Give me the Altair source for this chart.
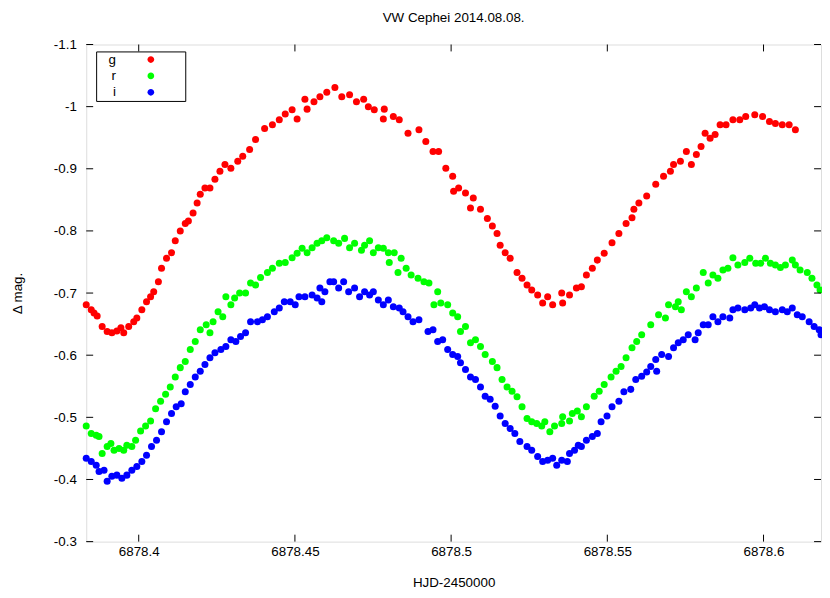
import altair as alt
import pandas as pd

# ---- data (HJD-2450000, delta magnitude) ----
g_hjd = [6878.3832, 6878.3848, 6878.3857, 6878.3867, 6878.3883, 6878.3899, 6878.3914, 6878.3930, 6878.3943, 6878.3952,
         6878.3968, 6878.3984, 6878.3994, 6878.4010, 6878.4025, 6878.4038, 6878.4048, 6878.4063, 6878.4073, 6878.4089,
         6878.4105, 6878.4117, 6878.4133, 6878.4149, 6878.4159, 6878.4174, 6878.4187, 6878.4197, 6878.4212, 6878.4228,
         6878.4244, 6878.4260, 6878.4276, 6878.4295, 6878.4317, 6878.4333, 6878.4355, 6878.4374, 6878.4403, 6878.4428,
         6878.4450, 6878.4469, 6878.4491, 6878.4507, 6878.4532, 6878.4539, 6878.4561, 6878.4580, 6878.4602, 6878.4628,
         6878.4650, 6878.4675, 6878.4697, 6878.4720, 6878.4735, 6878.4754, 6878.4783, 6878.4786, 6878.4815, 6878.4834,
         6878.4862, 6878.4897, 6878.4919, 6878.4942, 6878.4960, 6878.4983, 6878.5005, 6878.5008, 6878.5024, 6878.5046,
         6878.5062, 6878.5071, 6878.5094, 6878.5116, 6878.5132, 6878.5147, 6878.5157, 6878.5173, 6878.5189, 6878.5211,
         6878.5227, 6878.5243, 6878.5258, 6878.5277, 6878.5293, 6878.5309, 6878.5325, 6878.5354, 6878.5357, 6878.5379,
         6878.5401, 6878.5417, 6878.5433, 6878.5452, 6878.5468, 6878.5490, 6878.5515, 6878.5537, 6878.5560, 6878.5579,
         6878.5585, 6878.5601, 6878.5626, 6878.5655, 6878.5680, 6878.5702, 6878.5712, 6878.5734, 6878.5753, 6878.5769,
         6878.5785, 6878.5800, 6878.5813, 6878.5829, 6878.5845, 6878.5861, 6878.5880, 6878.5902, 6878.5924, 6878.5943,
         6878.5972, 6878.5997, 6878.6019, 6878.6038, 6878.6060, 6878.6082, 6878.6102]
g_mag = [-0.681, -0.673, -0.668, -0.663, -0.646, -0.638, -0.636, -0.639, -0.644, -0.636,
         -0.646, -0.654, -0.660, -0.673, -0.686, -0.694, -0.702, -0.718, -0.740, -0.756,
         -0.765, -0.784, -0.800, -0.812, -0.816, -0.829, -0.845, -0.859, -0.869, -0.869,
         -0.883, -0.896, -0.907, -0.901, -0.912, -0.920, -0.931, -0.947, -0.965, -0.971,
         -0.979, -0.988, -0.995, -0.980, -1.012, -0.996, -1.008, -1.016, -1.023, -1.031,
         -1.016, -1.019, -1.008, -1.012, -1.000, -0.995, -0.980, -0.996, -0.984, -0.979,
         -0.957, -0.963, -0.944, -0.928, -0.928, -0.901, -0.888, -0.864, -0.869, -0.861,
         -0.837, -0.853, -0.835, -0.820, -0.808, -0.796, -0.777, -0.765, -0.756, -0.733,
         -0.724, -0.713, -0.705, -0.697, -0.684, -0.694, -0.681, -0.700, -0.684, -0.697,
         -0.708, -0.710, -0.729, -0.740, -0.753, -0.764, -0.781, -0.796, -0.812, -0.821,
         -0.835, -0.845, -0.856, -0.875, -0.888, -0.896, -0.907, -0.912, -0.928, -0.907,
         -0.923, -0.936, -0.957, -0.949, -0.955, -0.971, -0.971, -0.979, -0.979, -0.984,
         -0.987, -0.984, -0.976, -0.973, -0.971, -0.971, -0.963]

r_hjd = [6878.3832, 6878.3848, 6878.3864, 6878.3873, 6878.3883, 6878.3899, 6878.3911, 6878.3921, 6878.3937, 6878.3952,
         6878.3962, 6878.3978, 6878.3990, 6878.4006, 6878.4022, 6878.4038, 6878.4054, 6878.4070, 6878.4086, 6878.4101,
         6878.4117, 6878.4133, 6878.4149, 6878.4165, 6878.4181, 6878.4197, 6878.4216, 6878.4228, 6878.4238, 6878.4254,
         6878.4269, 6878.4279, 6878.4295, 6878.4307, 6878.4323, 6878.4342, 6878.4358, 6878.4374, 6878.4390, 6878.4412,
         6878.4428, 6878.4450, 6878.4469, 6878.4491, 6878.4507, 6878.4523, 6878.4539, 6878.4555, 6878.4571, 6878.4586,
         6878.4602, 6878.4624, 6878.4640, 6878.4659, 6878.4675, 6878.4691, 6878.4713, 6878.4723, 6878.4739, 6878.4751,
         6878.4767, 6878.4783, 6878.4799, 6878.4802, 6878.4818, 6878.4830, 6878.4840, 6878.4856, 6878.4872, 6878.4894,
         6878.4913, 6878.4929, 6878.4945, 6878.4957, 6878.4967, 6878.4989, 6878.5005, 6878.5021, 6878.5030, 6878.5046,
         6878.5062, 6878.5078, 6878.5094, 6878.5109, 6878.5132, 6878.5147, 6878.5163, 6878.5179, 6878.5195, 6878.5211,
         6878.5227, 6878.5243, 6878.5258, 6878.5274, 6878.5290, 6878.5300, 6878.5316, 6878.5331, 6878.5354, 6878.5357,
         6878.5379, 6878.5388, 6878.5404, 6878.5417, 6878.5433, 6878.5458, 6878.5474, 6878.5490, 6878.5512, 6878.5528,
         6878.5544, 6878.5560, 6878.5579, 6878.5594, 6878.5610, 6878.5639, 6878.5664, 6878.5686, 6878.5696, 6878.5718,
         6878.5727, 6878.5737, 6878.5753, 6878.5769, 6878.5785, 6878.5807, 6878.5823, 6878.5838, 6878.5854, 6878.5870,
         6878.5886, 6878.5902, 6878.5918, 6878.5940, 6878.5956, 6878.5975, 6878.5991, 6878.6006, 6878.6022, 6878.6038,
         6878.6054, 6878.6070, 6878.6092, 6878.6102, 6878.6117, 6878.6140, 6878.6155, 6878.6171, 6878.6181]
r_mag = [-0.486, -0.474, -0.471, -0.469, -0.442, -0.453, -0.458, -0.447, -0.450, -0.447,
         -0.455, -0.453, -0.463, -0.478, -0.486, -0.494, -0.514, -0.526, -0.537, -0.549,
         -0.565, -0.580, -0.590, -0.609, -0.622, -0.641, -0.649, -0.636, -0.654, -0.670,
         -0.662, -0.694, -0.681, -0.692, -0.700, -0.700, -0.716, -0.713, -0.725, -0.733,
         -0.740, -0.748, -0.749, -0.757, -0.764, -0.772, -0.765, -0.773, -0.780, -0.784,
         -0.789, -0.784, -0.780, -0.788, -0.773, -0.780, -0.769, -0.777, -0.784, -0.765,
         -0.773, -0.772, -0.765, -0.749, -0.765, -0.733, -0.756, -0.740, -0.729, -0.724,
         -0.718, -0.716, -0.681, -0.702, -0.684, -0.681, -0.668, -0.662, -0.638, -0.646,
         -0.620, -0.625, -0.614, -0.601, -0.590, -0.580, -0.561, -0.549, -0.542, -0.533,
         -0.517, -0.498, -0.493, -0.490, -0.486, -0.493, -0.477, -0.486, -0.490, -0.501,
         -0.494, -0.506, -0.510, -0.501, -0.517, -0.534, -0.542, -0.553, -0.565, -0.574,
         -0.582, -0.596, -0.612, -0.622, -0.633, -0.649, -0.665, -0.660, -0.681, -0.678,
         -0.686, -0.673, -0.702, -0.694, -0.708, -0.733, -0.716, -0.729, -0.724, -0.737,
         -0.740, -0.757, -0.745, -0.749, -0.756, -0.748, -0.748, -0.756, -0.748, -0.745,
         -0.741, -0.745, -0.753, -0.745, -0.737, -0.733, -0.724, -0.713, -0.705]

i_hjd = [6878.3832, 6878.3848, 6878.3864, 6878.3873, 6878.3889, 6878.3899, 6878.3914, 6878.3930, 6878.3946, 6878.3962,
         6878.3978, 6878.3994, 6878.4010, 6878.4025, 6878.4041, 6878.4057, 6878.4073, 6878.4089, 6878.4105, 6878.4120,
         6878.4136, 6878.4149, 6878.4165, 6878.4181, 6878.4197, 6878.4212, 6878.4228, 6878.4244, 6878.4263, 6878.4279,
         6878.4295, 6878.4311, 6878.4326, 6878.4342, 6878.4358, 6878.4380, 6878.4396, 6878.4412, 6878.4434, 6878.4450,
         6878.4466, 6878.4485, 6878.4501, 6878.4513, 6878.4532, 6878.4555, 6878.4571, 6878.4580, 6878.4586, 6878.4596,
         6878.4612, 6878.4624, 6878.4640, 6878.4656, 6878.4672, 6878.4691, 6878.4707, 6878.4723, 6878.4739, 6878.4751,
         6878.4767, 6878.4783, 6878.4799, 6878.4815, 6878.4834, 6878.4846, 6878.4862, 6878.4878, 6878.4897, 6878.4926,
         6878.4942, 6878.4957, 6878.4973, 6878.4989, 6878.5005, 6878.5021, 6878.5030, 6878.5046, 6878.5062, 6878.5078,
         6878.5094, 6878.5109, 6878.5125, 6878.5141, 6878.5157, 6878.5173, 6878.5189, 6878.5204, 6878.5220, 6878.5243,
         6878.5258, 6878.5277, 6878.5293, 6878.5309, 6878.5325, 6878.5338, 6878.5354, 6878.5372, 6878.5379, 6878.5395,
         6878.5407, 6878.5417, 6878.5433, 6878.5452, 6878.5468, 6878.5480, 6878.5499, 6878.5515, 6878.5537, 6878.5553,
         6878.5575, 6878.5591, 6878.5610, 6878.5626, 6878.5639, 6878.5655, 6878.5658, 6878.5674, 6878.5696, 6878.5712,
         6878.5727, 6878.5743, 6878.5759, 6878.5781, 6878.5791, 6878.5807, 6878.5823, 6878.5838, 6878.5854, 6878.5870,
         6878.5892, 6878.5902, 6878.5918, 6878.5940, 6878.5959, 6878.5972, 6878.5987, 6878.6003, 6878.6019, 6878.6038,
         6878.6060, 6878.6076, 6878.6092, 6878.6108, 6878.6124, 6878.6146, 6878.6162, 6878.6178, 6878.6184]
i_mag = [-0.434, -0.429, -0.423, -0.413, -0.415, -0.397, -0.405, -0.407, -0.402, -0.407,
         -0.415, -0.421, -0.429, -0.439, -0.453, -0.463, -0.477, -0.493, -0.506, -0.517,
         -0.522, -0.541, -0.553, -0.565, -0.574, -0.585, -0.596, -0.604, -0.609, -0.614,
         -0.625, -0.622, -0.630, -0.636, -0.654, -0.654, -0.657, -0.662, -0.670, -0.676,
         -0.686, -0.686, -0.681, -0.694, -0.694, -0.697, -0.692, -0.708, -0.686, -0.702,
         -0.718, -0.718, -0.708, -0.718, -0.702, -0.708, -0.694, -0.702, -0.697, -0.702,
         -0.689, -0.681, -0.689, -0.678, -0.676, -0.670, -0.662, -0.654, -0.657, -0.638,
         -0.641, -0.622, -0.625, -0.609, -0.601, -0.598, -0.588, -0.577, -0.565, -0.561,
         -0.549, -0.534, -0.529, -0.518, -0.502, -0.490, -0.482, -0.474, -0.461, -0.453,
         -0.447, -0.437, -0.429, -0.431, -0.434, -0.423, -0.431, -0.429, -0.442, -0.447,
         -0.455, -0.453, -0.463, -0.469, -0.474, -0.493, -0.502, -0.517, -0.526, -0.541,
         -0.545, -0.561, -0.566, -0.573, -0.582, -0.593, -0.574, -0.601, -0.598, -0.612,
         -0.620, -0.625, -0.633, -0.625, -0.636, -0.649, -0.649, -0.662, -0.654, -0.662,
         -0.660, -0.673, -0.676, -0.673, -0.676, -0.681, -0.676, -0.678, -0.673, -0.670,
         -0.673, -0.670, -0.676, -0.665, -0.662, -0.654, -0.646, -0.641, -0.633]

bands = ["g", "r", "i"]
band_colors = ["#ff0000", "#00ff00", "#0000ff"]
x_ticks = [6878.4, 6878.45, 6878.5, 6878.55, 6878.6]
y_ticks = [-1.1, -1.0, -0.9, -0.8, -0.7, -0.6, -0.5, -0.4, -0.3]
x_domain = [6878.3832, 6878.6184]
y_domain = [-1.1, -0.3]

frames = []
for k, (hx, my) in enumerate([(g_hjd, g_mag), (r_hjd, r_mag), (i_hjd, i_mag)]):
    frames.append(pd.DataFrame({"hjd": hx, "mag": my, "band": bands[k], "order": k}))
df = pd.concat(frames, ignore_index=True)
xt = pd.DataFrame({"hjd": x_ticks})
yt = pd.DataFrame({"mag": y_ticks})

FONT = "Liberation Sans"
FS = 13.5
W, H = 742, 502
TICK = 7

# legend symbol: unit circle, with a leading move-to that widens the key box to the right
KEY_SYMBOL = "M9.6,0 M1,0 A1,1 0 1,1 -1,0 A1,1 0 1,1 1,0 Z"

xs = alt.Scale(domain=x_domain, nice=False, zero=False)
ys = alt.Scale(domain=y_domain, nice=False, zero=False, reverse=True)

x_axis = alt.Axis(
    orient="bottom", values=x_ticks, labelExpr="'' + datum.value",
    ticks=False, tickSize=0, domain=False, grid=False, labelPadding=3,
    labelFont=FONT, labelFontSize=FS, labelColor="black",
    title="HJD-2450000", titleFont=FONT, titleFontSize=FS, titleFontWeight="normal",
    titleColor="black", titleX=W / 2, titleY=41, titleBaseline="middle", titleAnchor="middle")
y_axis = alt.Axis(
    orient="left", values=y_ticks, labelExpr="'' + datum.value",
    ticks=False, tickSize=0, domain=False, grid=False, labelPadding=10,
    labelFont=FONT, labelFontSize=FS, labelColor="black", labelBaseline="middle",
    title="Δ mag.", titleFont=FONT, titleFontSize=FS, titleFontWeight="normal",
    titleColor="black", titleAngle=270, titleX=-69, titleY=H / 2, titleBaseline="middle",
    titleAlign="center")

main = alt.Chart(df).mark_circle(size=50, opacity=1).encode(
    x=alt.X("hjd:Q", scale=xs, axis=x_axis, title="HJD-2450000"),
    y=alt.Y("mag:Q", scale=ys, axis=y_axis, title="Δ mag."),
    color=alt.Color("band:N", scale=alt.Scale(domain=bands, range=band_colors),
                    legend=alt.Legend(
                        title=None, orient="none", legendX=10, legendY=7, direction="vertical",
                        strokeColor="black", fillColor="white", padding=1.5, rowPadding=1.5,
                        symbolType=KEY_SYMBOL, symbolSize=46, symbolOpacity=1,
                        symbolStrokeWidth=0,
                        symbolOffset=47, labelOffset={"expr": "-42"}, labelAlign="right",
                        labelFont=FONT, labelFontSize=FS, labelColor="black")),
    order=alt.Order("order:Q"),
)

tick_style = dict(color="black", strokeWidth=1)
bottom_ticks = alt.Chart(xt).mark_rule(**tick_style).encode(
    x=alt.X("hjd:Q", scale=xs, axis=x_axis, title="HJD-2450000"),
    y=alt.value(H), y2=alt.value(H - TICK))
top_ticks = alt.Chart(xt).mark_rule(**tick_style).encode(
    x=alt.X("hjd:Q", scale=xs, axis=x_axis, title="HJD-2450000"),
    y=alt.value(0), y2=alt.value(TICK))
left_ticks = alt.Chart(yt).mark_rule(**tick_style).encode(
    y=alt.Y("mag:Q", scale=ys, axis=y_axis, title="Δ mag."),
    x=alt.value(0), x2=alt.value(TICK))
right_ticks = alt.Chart(yt).mark_rule(**tick_style).encode(
    y=alt.Y("mag:Q", scale=ys, axis=y_axis, title="Δ mag."),
    x=alt.value(W), x2=alt.value(W - TICK))

chart = alt.layer(main, bottom_ticks, top_ticks, left_ticks, right_ticks).properties(
    width=W, height=H,
    title=alt.TitleParams("VW Cephei 2014.08.08.", font=FONT, fontSize=FS, fontWeight="normal",
                          anchor="middle", offset=13, color="black"),
    autosize=alt.AutoSizeParams(type="none"),
    padding={"left": 79, "top": 34, "right": 1, "bottom": 46},
).configure_view(stroke="black", strokeWidth=1).configure(background="white")

chart.save("out.html", embed_options={"renderer": "svg", "actions": False})
